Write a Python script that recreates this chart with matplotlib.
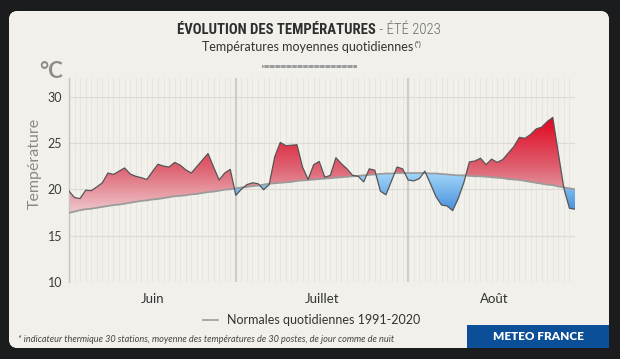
import numpy as np
import matplotlib
matplotlib.use("Agg")
import matplotlib.pyplot as plt
from matplotlib.colors import LinearSegmentedColormap, Normalize
from matplotlib.patches import FancyBboxPatch, Rectangle, PathPatch
from matplotlib.path import Path

# ---------------- data ----------------
# daily mean temperature, 1 June -> 31 August 2023
temps = [
    19.8, 19.1, 19.0, 19.9, 19.85, 20.25, 20.7, 21.75, 21.6, 21.95,
    22.3, 21.65, 21.4, 21.25, 21.05, 21.9, 22.7, 22.5, 22.4, 22.9,
    22.6, 22.1, 21.75, 22.45, 23.15, 23.85, 22.4, 21.0, 21.75, 22.15,
    19.35, 20.0, 20.5, 20.7, 20.6, 19.95, 20.5, 23.5, 25.05, 24.7,
    24.75, 24.8, 22.4, 21.05, 22.65, 23.0, 21.3, 21.5, 23.4, 22.75,
    22.2, 21.5, 21.4, 20.8, 22.2, 22.05, 19.8, 19.4, 20.9, 22.4,
    22.2, 21.0, 20.9, 21.15, 21.95, 20.6, 19.2, 18.3, 18.2, 17.7,
    19.0, 20.7, 22.95, 23.05, 23.35, 22.65, 23.25, 22.9, 23.2, 23.9,
    24.6, 25.6, 25.5, 25.9, 26.5, 26.7, 27.3, 27.75, 23.9, 20.1,
    17.95, 17.85,
]
# daily normals 1991-2020
normals = [
    17.45, 17.6, 17.75, 17.85, 17.9, 18.0, 18.1, 18.2, 18.3, 18.35,
    18.45, 18.55, 18.65, 18.75, 18.8, 18.9, 18.95, 19.05, 19.15, 19.25,
    19.3, 19.35, 19.45, 19.5, 19.6, 19.7, 19.75, 19.85, 19.95, 20.0,
    20.1, 20.2, 20.25, 20.35, 20.4, 20.5, 20.6, 20.65, 20.7, 20.75,
    20.8, 20.9, 20.95, 21.0, 21.05, 21.1, 21.15, 21.2, 21.25, 21.3,
    21.35, 21.4, 21.45, 21.5, 21.55, 21.6, 21.65, 21.7, 21.7, 21.75,
    21.75, 21.75, 21.75, 21.75, 21.75, 21.7, 21.7, 21.65, 21.6, 21.55,
    21.5, 21.5, 21.45, 21.4, 21.4, 21.35, 21.3, 21.25, 21.2, 21.1,
    21.05, 21.0, 20.9, 20.8, 20.7, 20.6, 20.5, 20.45, 20.3, 20.2,
    20.1, 20.0,
]
months = ["Juin", "Juillet", "Août"]
month_lengths = [30, 31, 31]
yticks = [10, 15, 20, 25, 30]

title_bold = "ÉVOLUTION DES TEMPÉRATURES"
title_light = " - ÉTÉ 2023"
subtitle = "Températures moyennes quotidiennes"
subtitle_note = "(*)"
legend_label = "Normales quotidiennes 1991-2020"
footnote = "* indicateur thermique 30 stations, moyenne des températures de 30 postes, de jour comme de nuit"
brand = "METEO FRANCE"

# ---------------- figure ----------------
W, H = 620, 359
fig = plt.figure(figsize=(W / 100, H / 100), dpi=100)
fig.patch.set_facecolor("#1b1c1e")

def fx(px):
    return px / W

def fy(py):
    return 1 - py / H

# background panel with soft radial gradient
bg = fig.add_axes([0, 0, 1, 1])
bg.set_xlim(0, W)
bg.set_ylim(H, 0)
bg.axis("off")
panel = FancyBboxPatch((9, 11), 600, 337, boxstyle="round,pad=0,rounding_size=9",
                       facecolor="#f1f0eb", edgecolor="none", transform=bg.transData)
bg.add_patch(panel)
yy, xx = np.mgrid[0:H, 0:W]
r = np.sqrt(((xx - 310) / 330.0) ** 2 + ((yy - 150) / 230.0) ** 2)
bg_cmap = LinearSegmentedColormap.from_list("bg", ["#fbfbf9", "#f2f1ec", "#eae8e1"])
im_bg = bg.imshow(r, extent=[0, W, H, 0], cmap=bg_cmap, vmin=0, vmax=1.3,
                  interpolation="bilinear", aspect="auto")
im_bg.set_clip_path(panel)

# ---------------- main axes ----------------
x0, x1, ytop, ybot = 69, 575, 78, 282
ax = fig.add_axes([fx(x0), fy(ybot), fx(x1 - x0), (ybot - ytop) / H])
ax.set_facecolor("none")
n_days = len(temps)
x = np.arange(n_days)
t = np.array(temps)
nrm = np.array(normals)
ax.set_xlim(0, n_days - 1)
ax.set_ylim(10, 32)

# grid
for d in range(n_days):
    ax.axvline(d, color="#e5e4df", lw=0.6, zorder=0)
for yv in yticks:
    ax.axhline(yv, color="#dcdbd6", lw=0.8, zorder=0.5)
starts = np.cumsum([0] + month_lengths)
for s in starts[1:-1]:
    ax.axvline(s, color="#cdccc8", lw=1.6, zorder=0.6)

# gradient fills
red_cmap = LinearSegmentedColormap.from_list(
    "red", [(0.0, "#efc8cc"), (0.45, "#de6474"), (1.0, "#e2001a")])
blue_cmap = LinearSegmentedColormap.from_list(
    "blue", [(0.0, "#3a84d6"), (1.0, "#a6dafb")])
grad = np.linspace(10, 32, 600).reshape(-1, 1) * np.ones((1, 10))

def gradient_fill(where, cmap, vmin, vmax):
    coll = ax.fill_between(x, nrm, t, where=where, interpolate=True,
                           facecolor="none", edgecolor="none")
    paths = coll.get_paths()
    if not paths:
        return
    comp = Path.make_compound_path(*paths)
    patch = PathPatch(comp, transform=ax.transData, facecolor="none", edgecolor="none")
    im = ax.imshow(grad, extent=[0, n_days - 1, 10, 32], origin="lower", aspect="auto",
                   cmap=cmap, norm=Normalize(vmin, vmax), zorder=2, interpolation="bilinear")
    im.set_clip_path(patch)

gradient_fill(t >= nrm, red_cmap, 17.5, 28.0)
gradient_fill(t <= nrm, blue_cmap, 17.0, 22.0)

ax.plot(x, nrm, color="#9b9b9b", lw=1.3, zorder=3)
ax.plot(x, t, color="#555555", lw=0.9, zorder=4)

# axes styling
for sp in ["top", "right", "bottom"]:
    ax.spines[sp].set_visible(False)
ax.spines["left"].set_color("#c4c4c0")
ax.spines["left"].set_linewidth(1.0)
ax.set_yticks(yticks)
ax.tick_params(axis="y", length=0, pad=5, labelsize=9, labelcolor="#3c3c3c")
centers = [(starts[i] + starts[i + 1]) / 2 for i in range(len(months))]
ax.set_xticks(centers)
ax.set_xticklabels(months)
ax.tick_params(axis="x", length=0, pad=8, labelsize=9.5, labelcolor="#333333")
for lab in ax.get_xticklabels() + ax.get_yticklabels():
    lab.set_family(["Lato", "DejaVu Sans"])

# ---------------- texts ----------------
cond = ["Liberation Sans Narrow", "Roboto Condensed", "DejaVu Sans"]
tb = fig.text(0, fy(30), title_bold, fontsize=10.6, fontweight="bold", family=cond,
              fontstretch="condensed", color="#2e2e2e", va="center", ha="left")
tl = fig.text(0, fy(30), title_light, fontsize=10.6, fontweight="light", family=cond,
              fontstretch="condensed", color="#6a6a6a", va="center", ha="left")
fig.canvas.draw()
rend = fig.canvas.get_renderer()
wb = tb.get_window_extent(rend).width
wl = tl.get_window_extent(rend).width
start = 309 - (wb + wl) / 2
tb.set_x(fx(start))
tl.set_x(fx(start + wb))

st = fig.text(fx(308), fy(47), subtitle, fontsize=9, family=["Lato", "DejaVu Sans"],
              color="#333333", ha="center", va="center")
fig.canvas.draw()
ext = st.get_window_extent(rend)
fig.text(fx(ext.x1 + 1), fy(44), subtitle_note, fontsize=5, family=["Lato", "DejaVu Sans"],
         color="#333333", ha="left", va="center")
bg.add_patch(Rectangle((262, 64.5), 95, 3.5, facecolor="#9c9c9c", edgecolor="#c6c6c6",
                       hatch="|||", lw=0))

fig.text(fx(51), fy(71), "°C", fontsize=16, fontweight="bold", color="#8d8d8d",
         family=["Lato", "DejaVu Sans"], ha="center", va="center")
fig.text(fx(35), fy(163), "Température", fontsize=11.5, color="#8a8a8a", rotation=90,
         family=["Lato", "DejaVu Sans"], ha="center", va="center")

# legend
bg.plot([203, 218], [320, 320], color="#9b9b9b", lw=1.2)
fig.text(fx(227), fy(320), legend_label, fontsize=9, color="#333333",
         family=["Lato", "DejaVu Sans"], ha="left", va="center")

# footnote
fig.text(fx(18), fy(340), footnote, fontsize=6.6, style="italic", color="#444444",
         family=["Lato", "DejaVu Sans"], ha="left", va="center")

# brand box
bg.add_patch(Rectangle((467, 325), 142, 23, facecolor="#0a4f97", edgecolor="none"))
fig.text(fx(538), fy(336.5), brand, fontsize=8.5, fontweight="heavy", color="white",
         family=["Lato", "DejaVu Sans"], ha="center", va="center")

fig.savefig("out.png", dpi=100, facecolor=fig.get_facecolor())
